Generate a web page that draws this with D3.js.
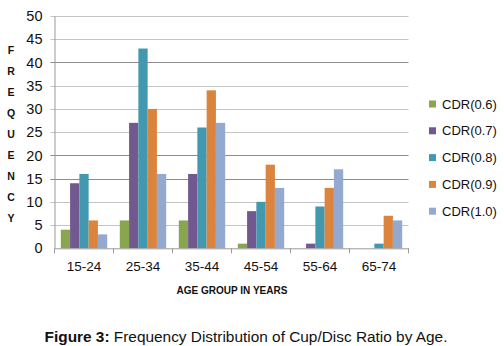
<!DOCTYPE html>
<html><head><meta charset="utf-8">
<script src="https://cdn.jsdelivr.net/npm/d3@7"></script>
<style>body{margin:0;background:#fff}svg{display:block;font-family:Arial,"Liberation Sans",sans-serif}</style>
</head><body>
<svg id="c" width="504" height="346"></svg>
<script>
const categories = ["15-24","25-34","35-44","45-54","55-64","65-74"];
const seriesNames = ["CDR(0.6)","CDR(0.7)","CDR(0.8)","CDR(0.9)","CDR(1.0)"];
const cdr06 = [4, 6, 6, 1, 0, 0];
const cdr07 = [14, 27, 16, 8, 1, 0];
const cdr08 = [16, 43, 26, 10, 9, 1];
const cdr09 = [6, 30, 34, 18, 13, 7];
const cdr10 = [3, 16, 27, 13, 17, 6];
const yTicks = [0,5,10,15,20,25,30,35,40,45,50];
const colors = ["#89A54E","#71588F","#4198AF","#DB843D","#93A9CF"];
const seriesValues = [cdr06, cdr07, cdr08, cdr09, cdr10];

const svg = d3.select("#c");
const L = 54.5, R = 408.5, T = 16, B = 248.3;
const x = d3.scaleBand().domain(categories).range([L, R]).paddingInner(0).paddingOuter(0);
const x1 = d3.scaleBand().domain(seriesNames).range([0, x.bandwidth()]).paddingOuter(0.68).paddingInner(0);
const y = d3.scaleLinear().domain([0, 50]).range([B, T]);

// gridlines
const darker = new Set([40, 20, 15]);
svg.append("g").selectAll("line").data(yTicks.filter(d => d > 0)).join("line")
  .attr("x1", L - 4).attr("x2", R)
  .attr("y1", d => Math.round(y(d)) + 0.5).attr("y2", d => Math.round(y(d)) + 0.5)
  .attr("stroke", d => darker.has(d) ? "#8c8c8c" : "#c4c4c4").attr("stroke-width", 1);

// y axis
const yAxis = d3.axisLeft(y).tickValues(yTicks).tickSize(0).tickPadding(12);
const gy = svg.append("g").attr("transform", `translate(${L},0)`).call(yAxis);
gy.select(".domain").attr("stroke", "#9a9a9a");
gy.selectAll("text").attr("font-size", 14.5).attr("fill", "#111").attr("font-family", "Arial, 'Liberation Sans', sans-serif");

// bars
const groups = svg.append("g").selectAll("g").data(seriesNames).join("g")
  .attr("fill", (d, i) => colors[i]);
groups.each(function(s, si) {
  d3.select(this).selectAll("rect").data(categories).join("rect")
    .attr("x", c => x(c) + x1(s))
    .attr("width", x1.bandwidth())
    .attr("y", (c, ci) => y(seriesValues[si][ci]))
    .attr("height", (c, ci) => y(0) - y(seriesValues[si][ci]));
});

// x axis
const xAxis = d3.axisBottom(x).tickSize(0).tickPadding(13);
const gx = svg.append("g").attr("transform", `translate(0,${B})`).call(xAxis);
gx.select(".domain").attr("stroke", "#9a9a9a");
gx.selectAll("text").attr("font-size", 13.5).attr("fill", "#111").attr("font-family", "Arial, 'Liberation Sans', sans-serif");
gx.append("g").selectAll("line").data(d3.range(categories.length + 1)).join("line")
  .attr("x1", i => L + i * x.step()).attr("x2", i => L + i * x.step())
  .attr("y1", 0).attr("y2", 5).attr("stroke", "#9a9a9a");

// y title vertical letters
const yTitle = "FREQUENCY".split("");
svg.append("g").selectAll("text").data(yTitle).join("text")
  .attr("x", 11).attr("y", (d, i) => 54 + i * 21)
  .attr("text-anchor", "middle").attr("font-size", 10.5).attr("font-weight", "bold").attr("fill", "#111")
  .text(d => d);

// x title
svg.append("text").attr("x", 232).attr("y", 294).attr("text-anchor", "middle")
  .attr("font-size", 10).attr("font-weight", "bold").attr("fill", "#111").text("AGE GROUP IN YEARS");

// legend
const lg = svg.append("g").selectAll("g").data(seriesNames).join("g")
  .attr("transform", (d, i) => `translate(429,${104 + i * 26.8})`);
lg.append("rect").attr("x", 0).attr("y", -3.5).attr("width", 7).attr("height", 7).attr("fill", (d, i) => colors[i]);
lg.append("text").attr("x", 13).attr("y", 0).attr("dy", "0.36em").attr("font-size", 13).attr("fill", "#111").text(d => d);

// caption
const cap = svg.append("text").attr("x", 246).attr("y", 342).attr("text-anchor", "middle").attr("font-size", 15.4).attr("fill", "#111");
cap.append("tspan").attr("font-weight", "bold").text("Figure 3:");
cap.append("tspan").text(" Frequency Distribution of Cup/Disc Ratio by Age.");
</script>
</body></html>
